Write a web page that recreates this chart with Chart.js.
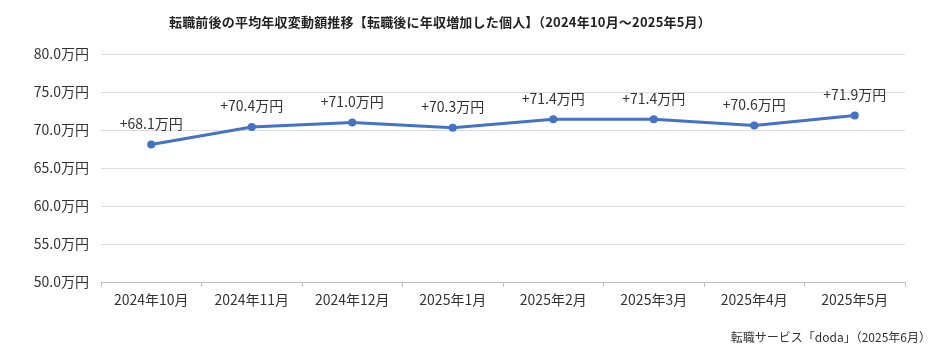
<!DOCTYPE html>
<html>
<head>
<meta charset="utf-8">
<script src="https://cdn.jsdelivr.net/npm/chart.js@4"></script>
<style>
  body { margin: 0; background: #fff; }
  #wrap { position: relative; width: 945px; height: 358px; font-family: "Noto Sans CJK JP", sans-serif; }
  #title { position: absolute; top: 12px; left: 0; width: 880px; text-align: center; font-size: 13px; font-weight: bold; color: #222; letter-spacing: 0.2px; }
  #source { position: absolute; top: 328px; right: 14px; font-size: 12px; color: #333; }
  canvas { position: absolute; left: 0; top: 0; }
</style>
</head>
<body>
<div id="wrap">
  <canvas id="chart" width="945" height="358"></canvas>
  <div id="title">転職前後の平均年収変動額推移【転職後に年収増加した個人】（2024年10月～2025年5月）</div>
  <div id="source">転職サービス「doda」（2025年6月）</div>
</div>
<script>
const months = ['2024年10月', '2024年11月', '2024年12月', '2025年1月', '2025年2月', '2025年3月', '2025年4月', '2025年5月'];
const avgIncrease = [68.1, 70.4, 71.0, 70.3, 71.4, 71.4, 70.6, 71.9];
const lineColor = '#4472C4';

// labels above each point, e.g. "+68.1万円"
const pointLabels = {
    id: 'pointLabels',
    afterDatasetsDraw(chart) {
        const ctx = chart.ctx;
        const meta = chart.getDatasetMeta(0);
        ctx.save();
        ctx.font = '14px "Noto Sans CJK JP"';
        ctx.fillStyle = '#333';
        ctx.textAlign = 'center';
        ctx.textBaseline = 'middle';
        meta.data.forEach((pt, i) => {
            ctx.fillText('+' + avgIncrease[i].toFixed(1) + '万円', pt.x, pt.y - 21);
        });
        ctx.restore();
    }
};

const ctx = document.querySelector('#chart').getContext('2d');
const chart = new Chart(ctx, {
    type: 'line',
    data: {
        labels: months,
        datasets: [{
            data: avgIncrease,
            borderColor: lineColor,
            backgroundColor: lineColor,
            borderWidth: 3,
            pointRadius: 4,
            pointBackgroundColor: lineColor,
            pointBorderWidth: 0,
            tension: 0
        }]
    },
    options: {
        responsive: false,
        animation: false,
        layout: { padding: { top: 54, right: 40, left: 0, bottom: 0 } },
        plugins: {
            legend: { display: false },
            tooltip: { enabled: false }
        },
        scales: {
            x: {
                offset: true,
                grid: { offset: true, drawOnChartArea: false, drawTicks: true, tickLength: 5, color: '#bfbfbf' },
                border: { color: '#bfbfbf' },
                ticks: { color: '#333', font: { family: 'Noto Sans CJK JP', size: 14 }, padding: 4 },
                afterFit: (scale) => { scale.height = 76; }
            },
            y: {
                min: 50,
                max: 80,
                ticks: {
                    stepSize: 5,
                    color: '#333',
                    padding: 12,
                    font: { family: 'Noto Sans CJK JP', size: 14 },
                    callback: (v) => v.toFixed(1) + '万円'
                },
                grid: { color: '#dcdcdc', drawTicks: false },
                border: { display: false },
                afterFit: (scale) => { scale.width = 101; }
            }
        }
    },
    plugins: [pointLabels]
});
</script>
</body>
</html>
